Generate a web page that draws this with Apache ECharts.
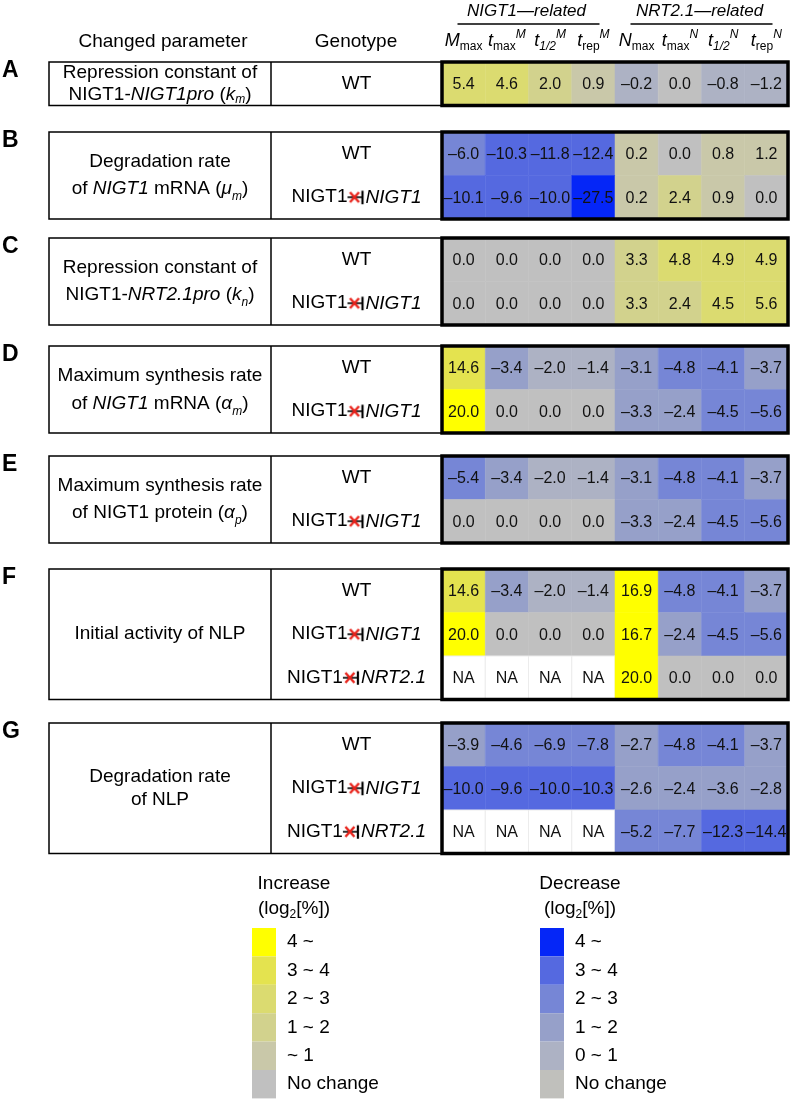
<!DOCTYPE html>
<html lang="en">
  <head>
    <meta charset="UTF-8" />
    <title>NIGT1 parameter sensitivity</title>
    <script src="https://cdn.jsdelivr.net/npm/echarts@6/dist/echarts.min.js"></script>
    <style>
      * {
        margin: 0;
        padding: 0;
      }
      body {
        background: #fff;
      }
    </style>
  </head>
  <body>
    <div id="charts" style="width: 791px; height: 1100px"></div>
    <script>
      var FONT = "'Liberation Sans', Arial, sans-serif";

      // column headers: symbol, subscript, superscript
      var colSym = ["M", "t", "t", "t", "N", "t", "t", "t"];
      var colSub = ["max", "max", "1/2", "rep", "max", "max", "1/2", "rep"];
      var colSup = ["", "M", "M", "M", "", "N", "N", "N"];
      var groupNames = ["NIGT1\u2014related", "NRT2.1\u2014related"];

      var panelLetters = ["A", "B", "C", "D", "E", "F", "G"];
      var paramText = [
        "Repression constant of\nNIGT1-{i|NIGT1pro} ({i|k}{isub|m})",
        "Degradation rate\nof {i|NIGT1} mRNA ({i|\u03bc}{isub|m})",
        "Repression constant of\nNIGT1-{i|NRT2.1pro} ({i|k}{isub|n})",
        "Maximum synthesis rate\nof {i|NIGT1} mRNA ({i|\u03b1}{isub|m})",
        "Maximum synthesis rate\nof NIGT1 protein ({i|\u03b1}{isub|p})",
        "Initial activity of NLP",
        "Degradation rate\nof NLP"
      ];
      var genoA = ["WT"];
      var genoB = ["WT", "NIGT1-|NIGT1"];
      var genoF = ["WT", "NIGT1-|NIGT1", "NIGT1-|NRT2.1"];
      var genotypes = [genoA, genoB, genoB, genoB, genoB, genoF, genoF];

      // log2[%] change values, NA = "-"
      var valA = [[5.4, 4.6, 2.0, 0.9, -0.2, 0.0, -0.8, -1.2]];
      var valB = [
        [-6.0, -10.3, -11.8, -12.4, 0.2, 0.0, 0.8, 1.2],
        [-10.1, -9.6, -10.0, -27.5, 0.2, 2.4, 0.9, 0.0]
      ];
      var valC = [
        [0.0, 0.0, 0.0, 0.0, 3.3, 4.8, 4.9, 4.9],
        [0.0, 0.0, 0.0, 0.0, 3.3, 2.4, 4.5, 5.6]
      ];
      var valD = [
        [14.6, -3.4, -2.0, -1.4, -3.1, -4.8, -4.1, -3.7],
        [20.0, 0.0, 0.0, 0.0, -3.3, -2.4, -4.5, -5.6]
      ];
      var valE = [
        [-5.4, -3.4, -2.0, -1.4, -3.1, -4.8, -4.1, -3.7],
        [0.0, 0.0, 0.0, 0.0, -3.3, -2.4, -4.5, -5.6]
      ];
      var valF = [
        [14.6, -3.4, -2.0, -1.4, 16.9, -4.8, -4.1, -3.7],
        [20.0, 0.0, 0.0, 0.0, 16.7, -2.4, -4.5, -5.6],
        ["-", "-", "-", "-", 20.0, 0.0, 0.0, 0.0]
      ];
      var valG = [
        [-3.9, -4.6, -6.9, -7.8, -2.7, -4.8, -4.1, -3.7],
        [-10.0, -9.6, -10.0, -10.3, -2.6, -2.4, -3.6, -2.8],
        ["-", "-", "-", "-", -5.2, -7.7, -12.3, -14.4]
      ];
      var panelValues = [valA, valB, valC, valD, valE, valF, valG];

      // legend bins (bottom to top), thresholds in % = 2^n
      var binBreaks = [2, 4, 8, 16];
      var incLabels = ["No change", "~ 1", "1 ~ 2", "2 ~ 3", "3 ~ 4", "4 ~"];
      var decLabels = ["No change", "0 ~ 1", "1 ~ 2", "2 ~ 3", "3 ~ 4", "4 ~"];
      var incColors = ["#c0c0c0", "#c9c8a9", "#d2d28d", "#dbdb70", "#e4e34f", "#ffff00"];
      var decColors = ["#c0c0bc", "#adb2c4", "#96a0c9", "#7686d6", "#5569e0", "#0526f7"];

      // layout
      var panelTop = [62, 132, 238, 346, 456, 569, 723];
      var paramLineH = [22, 27, 27, 28, 27, 22, 23];
      var ROW_H = 43.5;
      var BOX_L = 49, DIV_X = 271, HM_L = 442, HM_R = 788;

      // inhibition-with-cross symbol
      var sym = document.createElement("canvas");
      sym.width = 18;
      sym.height = 16;
      (function () {
        var c = sym.getContext("2d");
        c.strokeStyle = "#000";
        c.lineWidth = 1.6;
        c.beginPath();
        c.moveTo(0, 8);
        c.lineTo(14, 8);
        c.stroke();
        c.lineWidth = 2.2;
        c.beginPath();
        c.moveTo(15, 1.5);
        c.lineTo(15, 15);
        c.stroke();
        c.strokeStyle = "#e8231b";
        c.lineWidth = 2.4;
        c.beginPath();
        c.moveTo(2.5, 3);
        c.lineTo(11.5, 13);
        c.moveTo(2.5, 13);
        c.lineTo(11.5, 3);
        c.stroke();
      })();

      function fmt(v) {
        return (v < 0 ? "\u2013" : "") + Math.abs(v).toFixed(1);
      }

      function colLabel(v, i) {
        var s = "{i|" + colSym[i] + "}{" + (colSub[i] === "1/2" ? "isub" : "sub") + "|" + colSub[i] + "}";
        if (colSup[i]) s += "{isup|" + colSup[i] + "}";
        return s;
      }

      function genoLabel(v) {
        var parts = v.split("-|");
        if (parts.length < 2) return v;
        return parts[0] + "{sym|}{i|" + parts[1] + "}";
      }

      function renderCell(params, api) {
        var p = api.coord([api.value(0), api.value(1)]);
        var s = api.size([1, 1]);
        var v = api.value(2);
        var na = isNaN(v);
        var fill = na ? "#fff" : api.visual("color");
        return {
          type: "group",
          children: [
            {
              type: "rect",
              shape: { x: p[0] - s[0] / 2, y: p[1] - s[1] / 2, width: s[0], height: s[1] },
              style: { fill: fill, stroke: na ? "#ececec" : fill, lineWidth: na ? 1 : 0.5 }
            },
            {
              type: "text",
              x: p[0],
              y: p[1] + 1,
              style: {
                text: na ? "NA" : fmt(v),
                fill: "#111",
                fontSize: 16,
                fontFamily: FONT,
                align: "center",
                verticalAlign: "middle"
              }
            }
          ]
        };
      }

      function richSet(size) {
        return {
          i: { fontStyle: "italic", fontSize: size, fontFamily: FONT },
          sub: { fontSize: 12, lineHeight: 12, fontFamily: FONT, verticalAlign: "bottom" },
          isub: { fontSize: 12, lineHeight: 12, fontFamily: FONT, fontStyle: "italic", verticalAlign: "bottom" },
          isup: { fontSize: 12, lineHeight: 12, fontFamily: FONT, fontStyle: "italic", verticalAlign: "top" }
        };
      }

      var grids = [], xAxes = [], yAxes = [], series = [], graphics = [];

      panelValues.forEach(function (vals, k) {
        var top = panelTop[k];
        var h = vals.length * ROW_H;
        grids.push({ left: HM_L, width: HM_R - HM_L, top: top, height: h });
        xAxes.push({
          gridIndex: k,
          type: "category",
          data: colSym,
          show: k === 0,
          position: "top",
          axisLine: { show: false },
          axisTick: { show: false },
          axisLabel: {
            interval: 0,
            margin: 9,
            fontSize: 18,
            fontFamily: FONT,
            color: "#000",
            lineHeight: 24,
            formatter: colLabel,
            rich: richSet(18)
          }
        });
        yAxes.push({
          gridIndex: k,
          type: "category",
          data: genotypes[k],
          inverse: true,
          axisLine: { show: false },
          axisTick: { show: false },
          axisLabel: {
            margin: HM_L - (DIV_X + HM_L) / 2,
            align: "center",
            fontSize: 19,
            fontFamily: FONT,
            color: "#000",
            formatter: genoLabel,
            rich: {
              i: { fontStyle: "italic", fontSize: 19, fontFamily: FONT },
              sym: { width: 18, height: 16, backgroundColor: { image: sym } }
            }
          }
        });
        var data = [];
        vals.forEach(function (row, r) {
          row.forEach(function (v, c) {
            data.push([c, r, v]);
          });
        });
        series.push({
          type: "custom",
          xAxisIndex: k,
          yAxisIndex: k,
          encode: { x: 0, y: 1 },
          data: data,
          renderItem: renderCell,
          silent: true
        });

        // table box, divider, heatmap frame
        graphics.push({
          type: "rect",
          shape: { x: BOX_L, y: top, width: HM_L - BOX_L, height: h },
          style: { fill: null, stroke: "#000", lineWidth: 1.5 },
          z: 10
        });
        graphics.push({
          type: "line",
          shape: { x1: DIV_X, y1: top, x2: DIV_X, y2: top + h },
          style: { stroke: "#000", lineWidth: 1.5 },
          z: 10
        });
        graphics.push({
          type: "rect",
          shape: { x: HM_L, y: top, width: HM_R - HM_L, height: h },
          style: { fill: null, stroke: "#000", lineWidth: 3.5 },
          z: 20
        });
        graphics.push({
          type: "text",
          x: 2,
          y: top - 3,
          style: {
            text: panelLetters[k],
            fontSize: 23,
            fontWeight: "bold",
            fontFamily: FONT,
            fill: "#000",
            verticalAlign: "top"
          },
          z: 10
        });
        graphics.push({
          type: "text",
          x: (BOX_L + DIV_X) / 2,
          y: top + h / 2,
          style: {
            text: paramText[k],
            fontSize: 19,
            fontFamily: FONT,
            fill: "#000",
            align: "center",
            verticalAlign: "middle",
            lineHeight: paramLineH[k],
            rich: richSet(19)
          },
          z: 10
        });
      });

      // header texts
      graphics.push({
        type: "text", x: 163, y: 42,
        style: { text: "Changed parameter", fontSize: 19, fontFamily: FONT, fill: "#000", align: "center", verticalAlign: "middle" }
      });
      graphics.push({
        type: "text", x: 356, y: 42,
        style: { text: "Genotype", fontSize: 19, fontFamily: FONT, fill: "#000", align: "center", verticalAlign: "middle" }
      });
      var cw = (HM_R - HM_L) / 8;
      groupNames.forEach(function (g, j) {
        var cx = HM_L + cw * (4 * j + 2);
        graphics.push({
          type: "text", x: cx - 2, y: 11,
          style: { text: g, fontSize: 17, fontStyle: "italic", fontFamily: FONT, fill: "#000", align: "center", verticalAlign: "middle" }
        });
        graphics.push({
          type: "line",
          shape: { x1: cx - 71, y1: 24, x2: cx + 71, y2: 24 },
          style: { stroke: "#000", lineWidth: 1.5 }
        });
      });

      // legend titles
      [["Increase", 294], ["Decrease", 580]].forEach(function (t) {
        graphics.push({
          type: "text", x: t[1], y: 896,
          style: {
            text: t[0] + "\n(log{sub|2}[%])",
            fontSize: 19,
            fontFamily: FONT,
            fill: "#000",
            align: "center",
            verticalAlign: "middle",
            lineHeight: 25,
            rich: { sub: { fontSize: 12, lineHeight: 12, fontFamily: FONT, verticalAlign: "bottom" } }
          }
        });
      });

      // colour bins for values
      var b = binBreaks;
      var pieces = [
        { lt: -b[3], color: decColors[5] },
        { gte: -b[3], lt: -b[2], color: decColors[4] },
        { gte: -b[2], lt: -b[1], color: decColors[3] },
        { gte: -b[1], lt: -b[0], color: decColors[2] },
        { gte: -b[0], lt: 0, color: decColors[1] },
        { value: 0, color: incColors[0] },
        { gt: 0, lt: b[0], color: incColors[1] },
        { gte: b[0], lt: b[1], color: incColors[2] },
        { gte: b[1], lt: b[2], color: incColors[3] },
        { gte: b[2], lt: b[3], color: incColors[4] },
        { gte: b[3], color: incColors[5] }
      ];

      // empty series the legend keys hang on
      series.push({ type: "custom", coordinateSystem: "none", data: [], renderItem: function () {} });
      var legendSeries = series.length - 1;

      function legendMap(labels, colors, left) {
        return {
          type: "piecewise",
          show: true,
          seriesIndex: legendSeries,
          orient: "vertical",
          align: "left",
          left: left,
          top: 928,
          padding: 0,
          itemWidth: 24,
          itemHeight: 28.4,
          itemGap: 0,
          itemSymbol: "rect",
          textGap: 11,
          selectedMode: false,
          hoverLink: false,
          textStyle: { fontSize: 19, fontFamily: FONT, color: "#000" },
          pieces: labels.map(function (l, i) {
            return { value: i, label: l, color: colors[i] };
          })
        };
      }

      var myEcharts = echarts.init(document.getElementById("charts"));
      myEcharts.setOption({
        animation: false,
        backgroundColor: "#fff",
        grid: grids,
        xAxis: xAxes,
        yAxis: yAxes,
        visualMap: [
          {
            type: "piecewise",
            show: false,
            dimension: 2,
            seriesIndex: panelValues.map(function (v, k) { return k; }),
            pieces: pieces
          },
          legendMap(incLabels, incColors, 252),
          legendMap(decLabels, decColors, 540)
        ],
        series: series,
        graphic: graphics
      });
    </script>
  </body>
</html>
